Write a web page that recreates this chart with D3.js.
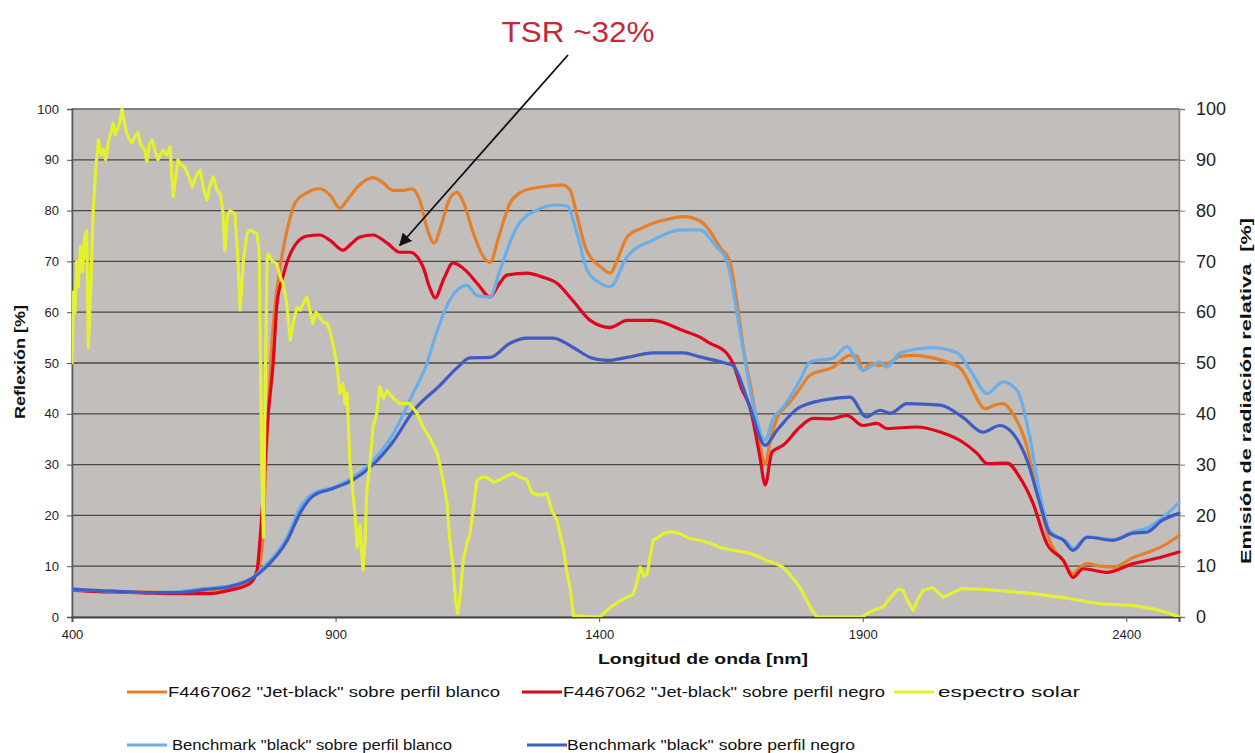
<!DOCTYPE html>
<html>
<head>
<meta charset="utf-8">
<script src="https://cdn.jsdelivr.net/npm/d3@7"></script>
<style>
  html, body { margin: 0; padding: 0; background: #ffffff; }
  svg { display: block; font-family: "Liberation Sans", Arial, sans-serif; }
</style>
</head>
<body>
<svg id="chart" width="1255" height="753"></svg>
<script>
// Reflectance spectra [wavelength nm, %]
const jetBlackOnWhite = [
  [400,5.5],[450,5.2],[500,5.0],[550,4.9],[600,4.8],[650,5.2],[700,5.8],[730,6.8],[750,8.5],[760,13],[770,35],[780,55],
  [795,69],[810,77],[823,81.5],[845,83.5],[870,84.3],[890,83],[908,80.5],[925,82.5],[945,85],[971,86.5],[990,85.5],
  [1009,84],[1030,84],[1045,84.3],[1060,82],[1075,76],[1087,73.6],[1100,77],[1115,82],[1130,83.6],[1145,81],[1160,76],
  [1180,71],[1193,69.8],[1210,75],[1231,81.5],[1255,83.8],[1275,84.4],[1300,84.8],[1331,85],[1345,84],[1358,79],
  [1373,73],[1390,70],[1402,69],[1421,67.7],[1437,71],[1453,74.8],[1480,76.5],[1502,77.5],[1530,78.3],[1559,78.8],
  [1591,78],[1610,76],[1629,72.8],[1648,70],[1660,63],[1675,52],[1690,44],[1705,34],[1715,30],[1725,35],[1737,39],
  [1762,42.3],[1781,45],[1800,47.6],[1844,49.2],[1876,51.5],[1890,51.3],[1900,48.5],[1915,50],[1930,49.5],[1950,50],
  [1971,51.3],[2000,51.5],[2033,51],[2060,50.2],[2085,49],[2100,46.5],[2109,44.6],[2132,41],[2150,41.7],[2166,42],
  [2185,40],[2200,37],[2212,33.4],[2225,27],[2236,22.4],[2255,15],[2281,11],[2299,8.5],[2310,9.5],[2326,10.5],
  [2350,10],[2375,9.8],[2413,11.7],[2440,12.7],[2464,13.7],[2500,16]
];
const jetBlackOnBlack = [
  [400,5.3],[450,5.0],[500,4.9],[550,4.7],[600,4.6],[656,4.6],[700,5.3],[738,6.6],[751,9.2],[757,15.7],[765,28],
  [770,37],[782,50.5],[789,61.8],[800,67],[819,72.5],[846,75],[870,75.2],[889,74.2],[914,72.2],[930,73.5],[946,74.8],
  [971,75.2],[998,73.6],[1022,71.8],[1041,71.8],[1066,68.9],[1078,65],[1089,62.8],[1105,66.5],[1123,69.7],[1149,68],
  [1170,65.5],[1193,63],[1210,65.5],[1225,67.3],[1263,67.7],[1290,67],[1320,65.7],[1350,62.3],[1383,58.4],[1421,57],
  [1453,58.4],[1502,58.4],[1559,56.4],[1591,55.1],[1610,53.9],[1642,51.9],[1654,49.9],[1670,45],[1686,41.3],
  [1705,31.5],[1715,26],[1728,32.5],[1749,33.8],[1781,37.4],[1806,39.1],[1840,39],[1870,39.7],[1900,37.7],[1927,38.1],
  [1946,37.1],[2003,37.4],[2047,36.4],[2090,34.4],[2117,32.2],[2136,30.2],[2174,30.3],[2198,27.5],[2223,22.4],
  [2249,14.5],[2281,11.1],[2299,7.8],[2318,9.5],[2363,8.8],[2413,10.5],[2464,11.7],[2500,12.8]
];
const benchmarkOnWhite = [
  [400,5.4],[450,5.2],[500,5.0],[550,4.8],[600,5.0],[650,5.6],[700,6.2],[743,7.8],[770,10.5],[808,15.7],[833,21.6],
  [857,24.3],[895,25.5],[933,27.5],[971,30.8],[1009,36],[1047,44],[1070,49],[1093,56.4],[1110,61],[1130,64.3],
  [1149,65.3],[1168,63.3],[1193,63],[1212,68.3],[1244,76.8],[1282,80.1],[1320,81.1],[1339,80.9],[1358,75.5],
  [1377,68.3],[1402,65.7],[1421,65],[1453,70.9],[1502,74.2],[1559,76.2],[1591,76.2],[1623,72.8],[1642,70.2],
  [1667,56.5],[1692,42],[1715,34.8],[1730,39],[1749,41.3],[1781,46.6],[1800,50.2],[1844,51],[1870,53.2],[1900,48.6],
  [1933,50.2],[1946,49.2],[1971,52],[2033,53],[2079,52],[2104,48.6],[2136,44],[2166,46.3],[2193,44.6],[2217,35.4],
  [2236,24.3],[2255,17],[2287,14.8],[2299,13.5],[2326,15.8],[2375,15.3],[2413,16.8],[2439,17.5],[2468,19.5],[2500,22.5]
];
const benchmarkOnBlack = [
  [400,5.5],[450,5.2],[500,5.0],[550,4.8],[600,4.8],[650,5.4],[700,6.0],[740,7.5],[770,10],[808,15],[833,20.5],
  [857,23.8],[895,25.3],[933,27],[971,30],[1009,34.5],[1047,40.5],[1098,45.6],[1130,49],[1155,51],[1193,51.1],
  [1231,53.9],[1263,54.9],[1313,54.9],[1350,53.1],[1383,51.1],[1415,50.5],[1453,51.1],[1502,52],[1559,52],
  [1591,51.2],[1642,49.9],[1654,49.5],[1686,41.3],[1715,33.8],[1737,36.7],[1781,41.3],[1844,43],[1876,43.3],
  [1907,39.4],[1933,40.7],[1952,40.1],[1984,42],[2047,41.7],[2090,39.3],[2128,36.4],[2160,37.7],[2185,36.1],
  [2212,30.8],[2236,22.4],[2255,16.5],[2281,15.1],[2299,13.1],[2326,15.7],[2375,15.1],[2413,16.5],[2439,16.7],
  [2468,19],[2500,20.4]
];
// Relative solar emission [wavelength nm, %] (secondary axis)
const solarSpectrum = [
  [400,50],[403,64],[406,60],[409,70],[412,65],[416,73],[420,68],[424,75],[428,76],[431,53],[436,66],[440,79.5],
  [445,88],[450,94],[455,91],[459,92],[464,90],[468,93],[473,95],[478,97.2],[482,95],[485,95.8],[490,97],[495,100],
  [500,97],[504,95.2],[509,94],[514,93.3],[519,94.5],[525,95.4],[530,93],[538,91.9],[542,89.6],[547,93],[552,93.9],
  [557,92],[563,90],[568,91],[573,91.9],[580,91],[586,92.6],[592,82.7],[601,90],[607,89],[614,88.6],[620,87],
  [628,84.7],[636,87],[643,88],[650,84],[656,82.1],[662,85],[668,86.7],[675,84],[681,83.4],[686,80],[690,72.2],
  [695,79],[700,80],[709,79.4],[714,72],[719,60.4],[725,70],[732,75.5],[738,76.2],[745,75.8],[751,75.5],[755,72],
  [760,30],[763,15.7],[766,40],[770,70],[772,71.5],[780,70],[788,69.6],[795,67],[800,65.7],[807,62],[814,54.5],
  [820,58],[827,61],[833,60.4],[840,62],[846,63],[852,60],[857,57.8],[863,60],[870,59],[877,58],[884,57.8],[890,56],
  [895,53.9],[903,49.2],[908,44],[914,46],[918,42],[922,44],[927,30.8],[933,24.3],[937,20],[941,13.7],[946,18],
  [952,9.2],[956,15],[959,24.3],[965,30],[971,37.4],[978,40],[984,45.3],[991,43],[998,44.6],[1010,43],[1022,42],
  [1041,42],[1055,40],[1066,37.4],[1080,35],[1093,32.2],[1102,28],[1111,22.9],[1117,15],[1123,9.8],[1128,3],
  [1132,0.7],[1137,5],[1142,11.1],[1148,14],[1155,16.4],[1162,22],[1168,26.9],[1177,27.5],[1187,27.5],[1200,26.5],
  [1212,27],[1225,27.8],[1237,28.3],[1250,27.5],[1263,27],[1270,25],[1275,24.3],[1290,24],[1301,24.3],[1310,21],
  [1320,19],[1332,13.7],[1340,8],[1345,5.8],[1351,0.3],[1402,0],[1411,1],[1421,1.9],[1430,2.5],[1440,3.2],
  [1452,3.8],[1465,4.5],[1472,7],[1478,9.8],[1485,8],[1491,8.5],[1497,12],[1502,15.1],[1510,15.5],[1521,16.4],
  [1535,16.8],[1553,16.4],[1570,15.5],[1591,15.1],[1610,14.5],[1629,13.7],[1650,13.2],[1680,12.7],[1700,12],
  [1718,11.1],[1735,10.5],[1749,9.8],[1765,8],[1781,5.8],[1800,2],[1813,0],[1900,0],[1908,0.7],[1925,1.5],
  [1939,2],[1950,3.5],[1958,4.5],[1968,5.5],[1977,5.2],[1986,3],[1996,1.3],[2005,3.5],[2014,5.2],[2025,5.6],
  [2033,5.8],[2043,4.8],[2052,3.9],[2065,4.5],[2079,5.2],[2090,5.6],[2120,5.5],[2160,5.2],[2223,4.6],[2287,3.7],
  [2350,2.6],[2413,2.3],[2451,1.6],[2480,0.8],[2500,0]
];

const seriesNames = [
  'F4467062 "Jet-black" sobre perfil blanco',
  'F4467062 "Jet-black" sobre perfil negro',
  'espectro solar',
  'Benchmark "black" sobre perfil blanco',
  'Benchmark "black" sobre perfil negro'
];
const xTicks = [400, 900, 1400, 1900, 2400];
const yTicks = [0, 10, 20, 30, 40, 50, 60, 70, 80, 90, 100];
const annotationText = "TSR ~32%";
const annotationTarget = [1022, 71.8]; // point on the black-profile curve

const colors = {
  orange: "#e57f2a",
  red: "#e0061c",
  yellow: "#e5f033",
  lightBlue: "#6aaee8",
  darkBlue: "#3f5cc4"
};

const svg = d3.select("#chart");
const plot = { left: 72, right: 1179, top: 109, bottom: 617 };

const x = d3.scaleLinear().domain([400, 2500]).range([plot.left, plot.right]);
const yL = d3.scaleLinear().domain([0, 100]).range([plot.bottom, plot.top]);
const yR = d3.scaleLinear().domain([0, 100]).range([plot.bottom, plot.top]);

// plot background
svg.append("rect")
  .attr("x", plot.left).attr("y", plot.top)
  .attr("width", plot.right - plot.left).attr("height", plot.bottom - plot.top)
  .attr("fill", "#c1bebb").attr("stroke", "#8a8886").attr("stroke-width", 1);

// horizontal gridlines
svg.append("g").selectAll("line").data(yTicks.filter(d => d > 0))
  .join("line")
  .attr("x1", plot.left).attr("x2", plot.right)
  .attr("y1", d => yL(d)).attr("y2", d => yL(d))
  .attr("stroke", d => d === 100 ? "#6e6c6a" : "#4a4846")
  .attr("stroke-width", 1.3);

// left axis
const gL = svg.append("g").attr("transform", `translate(${plot.left},0)`)
  .call(d3.axisLeft(yL).tickValues(yTicks).tickSize(5).tickPadding(8));
gL.select(".domain").attr("stroke", "#555").attr("stroke-width", 1.5);
gL.selectAll(".tick line").attr("stroke", "#555");
gL.selectAll("text").attr("font-size", 13).attr("fill", "#222")
  .attr("font-family", "Liberation Sans, Arial, sans-serif");

// right axis
const gR = svg.append("g").attr("transform", `translate(${plot.right},0)`)
  .call(d3.axisRight(yR).tickValues(yTicks).tickSize(6).tickPadding(11));
gR.select(".domain").attr("stroke", "#8a8886").attr("stroke-width", 1.5);
gR.selectAll(".tick line").attr("stroke", "#777");
gR.selectAll("text").attr("font-size", 18).attr("fill", "#222")
  .attr("font-family", "Liberation Sans, Arial, sans-serif");

// bottom axis
const gB = svg.append("g").attr("transform", `translate(0,${plot.bottom})`)
  .call(d3.axisBottom(x).tickValues(xTicks).tickFormat(d3.format("d")).tickSize(5).tickPadding(8));
gB.select(".domain").attr("stroke", "#444").attr("stroke-width", 2);
gB.selectAll(".tick line").attr("stroke", "#555");
gB.selectAll("text").attr("font-size", 13).attr("fill", "#222")
  .attr("font-family", "Liberation Sans, Arial, sans-serif");

// axis titles
svg.append("text")
  .attr("transform", `translate(25,362) rotate(-90)`)
  .attr("text-anchor", "middle").attr("font-size", 15).attr("font-weight", "bold").attr("fill", "#111")
  .attr("textLength", 114).attr("lengthAdjust", "spacingAndGlyphs")
  .text("Reflexión [%]");
svg.append("text")
  .attr("transform", `translate(1251,391) rotate(-90)`)
  .attr("text-anchor", "middle").attr("font-size", 15).attr("font-weight", "bold").attr("fill", "#111")
  .attr("xml:space", "preserve")
  .attr("textLength", 346).attr("lengthAdjust", "spacingAndGlyphs")
  .text("Emisión de radiación relativa  [%]");
svg.append("text")
  .attr("x", 703).attr("y", 664)
  .attr("text-anchor", "middle").attr("font-size", 15).attr("font-weight", "bold").attr("fill", "#111")
  .attr("textLength", 210).attr("lengthAdjust", "spacingAndGlyphs")
  .text("Longitud de onda [nm]");

// data lines
const lineL = d3.line().x(d => x(d[0])).y(d => yL(d[1])).curve(d3.curveMonotoneX);
const lineR = d3.line().x(d => x(d[0])).y(d => yR(d[1])).curve(d3.curveLinear);

svg.append("clipPath").attr("id", "plotClip").append("rect")
  .attr("x", plot.left).attr("y", plot.top - 3)
  .attr("width", plot.right - plot.left + 2).attr("height", plot.bottom - plot.top + 3);

const gLines = svg.append("g").attr("clip-path", "url(#plotClip)")
  .attr("fill", "none").attr("stroke-linejoin", "round").attr("stroke-linecap", "round");

const drawn = [
  { data: jetBlackOnWhite, color: colors.orange, gen: lineL },
  { data: jetBlackOnBlack, color: colors.red, gen: lineL },
  { data: benchmarkOnWhite, color: colors.lightBlue, gen: lineL },
  { data: benchmarkOnBlack, color: colors.darkBlue, gen: lineL },
  { data: solarSpectrum, color: colors.yellow, gen: lineR }
];
drawn.forEach(s => {
  gLines.append("path").attr("d", s.gen(s.data))
    .attr("stroke", s.color).attr("stroke-width", 3.2);
});

// annotation arrow and label
svg.append("defs").append("marker")
  .attr("id", "arrowHead").attr("viewBox", "0 0 10 10")
  .attr("refX", 9).attr("refY", 5)
  .attr("markerWidth", 7).attr("markerHeight", 7)
  .attr("orient", "auto")
  .append("path").attr("d", "M0,0 L10,5 L0,10 z").attr("fill", "#111");

const tip = [x(annotationTarget[0]), yL(annotationTarget[1]) - 7];
svg.append("line")
  .attr("x1", 568).attr("y1", 55)
  .attr("x2", tip[0]).attr("y2", tip[1])
  .attr("stroke", "#111").attr("stroke-width", 1.8)
  .attr("marker-end", "url(#arrowHead)");

svg.append("text")
  .attr("x", 578).attr("y", 42)
  .attr("text-anchor", "middle").attr("font-size", 29).attr("fill", "#c4283a")
  .attr("textLength", 153).attr("lengthAdjust", "spacingAndGlyphs")
  .text(annotationText);

// legend
const legendItems = [
  { name: seriesNames[0], color: colors.orange, x: 127, y: 692, tx: 168, len: 332 },
  { name: seriesNames[1], color: colors.red, x: 522, y: 692, tx: 563, len: 322 },
  { name: seriesNames[2], color: colors.yellow, x: 894, y: 692, tx: 938, len: 142 },
  { name: seriesNames[3], color: colors.lightBlue, x: 127, y: 745, tx: 172, len: 280 },
  { name: seriesNames[4], color: colors.darkBlue, x: 527, y: 745, tx: 567, len: 288 }
];
const gLeg = svg.append("g");
legendItems.forEach(it => {
  gLeg.append("line")
    .attr("x1", it.x).attr("x2", it.x + 40)
    .attr("y1", it.y).attr("y2", it.y)
    .attr("stroke", it.color).attr("stroke-width", 3.2);
  gLeg.append("text")
    .attr("x", it.tx).attr("y", it.y + 5)
    .attr("font-size", 15).attr("fill", "#111")
    .attr("textLength", it.len).attr("lengthAdjust", "spacingAndGlyphs")
    .text(it.name);
});
</script>
</body>
</html>
